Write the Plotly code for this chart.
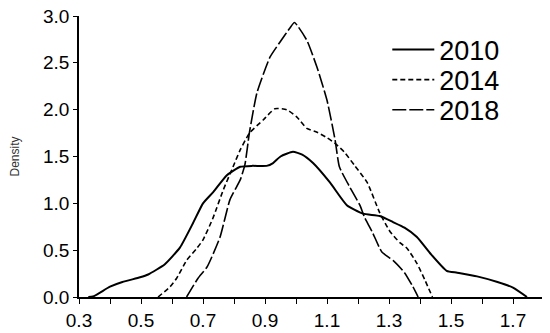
import plotly.graph_objects as go

# Density curves
x_2010 = [0.33, 0.345, 0.40, 0.44, 0.497, 0.523, 0.577, 0.626, 0.668, 0.70, 0.733, 0.777, 0.82,
          0.86, 0.905, 0.926, 0.95, 0.99, 1.02, 1.055, 1.11, 1.164, 1.216, 1.27, 1.313, 1.35,
          1.39, 1.432, 1.486, 1.52, 1.584, 1.65, 1.70, 1.745]
y_2010 = [0.0, 0.005, 0.11, 0.16, 0.21, 0.24, 0.35, 0.53, 0.79, 1.0, 1.12, 1.30, 1.39,
          1.40, 1.40, 1.43, 1.50, 1.55, 1.52, 1.43, 1.22, 0.98, 0.89, 0.865, 0.80, 0.74,
          0.64, 0.47, 0.28, 0.26, 0.22, 0.16, 0.10, 0.0]

x_2014 = [0.555, 0.594, 0.615, 0.647, 0.68, 0.70, 0.733, 0.765, 0.797, 0.82, 0.85, 0.894,
          0.932, 0.97, 1.003, 1.035, 1.068, 1.10, 1.126, 1.155, 1.19, 1.23, 1.27, 1.303,
          1.335, 1.358, 1.39, 1.416, 1.44]
y_2014 = [0.0, 0.11, 0.2, 0.39, 0.52, 0.61, 0.85, 1.14, 1.39, 1.57, 1.75, 1.89,
          2.01, 2.0, 1.92, 1.80, 1.76, 1.70, 1.64, 1.55, 1.40, 1.22, 0.90, 0.70,
          0.58, 0.52, 0.36, 0.18, 0.0]

x_2018 = [0.647, 0.684, 0.713, 0.755, 0.787, 0.82, 0.835, 0.85, 0.874, 0.916, 0.948, 0.98,
          0.995, 1.035, 1.068, 1.10, 1.126, 1.14, 1.174, 1.206, 1.22, 1.248, 1.277, 1.313,
          1.35, 1.377, 1.394]
y_2018 = [0.0, 0.2, 0.32, 0.64, 1.04, 1.25, 1.41, 1.76, 2.18, 2.56, 2.72, 2.87,
          2.93, 2.74, 2.45, 2.10, 1.68, 1.39, 1.17, 0.98, 0.86, 0.68, 0.48, 0.39,
          0.26, 0.11, 0.0]

series = [
    ('2010', x_2010, y_2010, 'solid', 2, 'legend', 0.879),
    ('2014', x_2014, y_2014, '5px,3px', 1.6, 'legend2', 0.772),
    ('2018', x_2018, y_2018, '14px,3px', 1.6, 'legend3', 0.665),
]

fig = go.Figure()

# one legend per series so the rows can sit closer than plotly's default spacing
legend_style = {}
for name, xs, ys, dash, width, leg, ypos in series:
    fig.add_trace(go.Scatter(
        x=xs, y=ys, name=name, mode='lines', legend=leg, showlegend=True,
        line=dict(color='black', width=width, dash=dash, shape='spline', smoothing=0.5)
    ))
    legend_style[leg] = dict(
        x=0.663, y=ypos, xanchor='left', yanchor='middle',
        font=dict(size=27, color='black'), itemwidth=42,
        bgcolor='rgba(0,0,0,0)',
    )

axis_font = dict(family='Liberation Sans, Arial, sans-serif', size=19, color='black')

# page body adds an 8px offset, so the figure is 8px smaller each way
fig.update_layout(
    width=542, height=325,
    margin=dict(l=71, r=6, t=8, b=36),
    showlegend=True,
    paper_bgcolor='white', plot_bgcolor='white',
    font=dict(family='Liberation Sans, Arial, sans-serif', color='black'),
    xaxis=dict(
        range=[0.3, 1.8], tick0=0.3, dtick=0.2, tickformat='.1f', automargin=False,
        ticks='outside', ticklen=5, tickcolor='black', ticklabeloverflow='allow',
        minor=dict(dtick=0.1, tick0=0.3, ticks='outside', ticklen=5, tickcolor='black'),
        showline=True, linecolor='black', linewidth=1.5,
        showgrid=False, zeroline=False, tickfont=axis_font,
    ),
    yaxis=dict(
        range=[0, 3.0], dtick=0.5, tickformat='.1f', automargin=False,
        ticks='outside', ticklen=4, tickcolor='black', ticklabeloverflow='allow',
        showline=True, linecolor='black', linewidth=1.5,
        showgrid=False, zeroline=False, tickfont=axis_font,
        title=dict(text='Density', font=dict(size=12, color='#333'), standoff=35),
    ),
    **legend_style,
)

fig.write_html("out.html")
